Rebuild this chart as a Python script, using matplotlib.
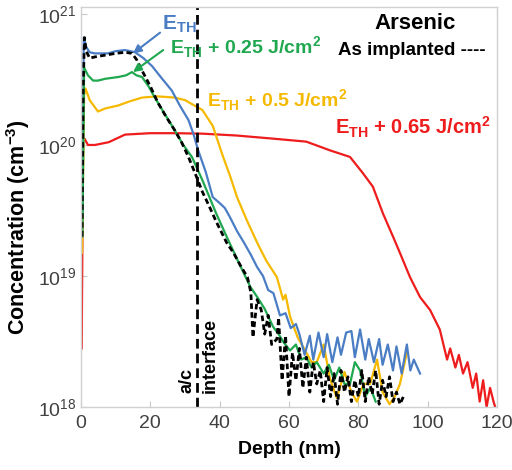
import numpy as np
import matplotlib
matplotlib.use('Agg')
import matplotlib.pyplot as plt

plt.rcParams['font.family'] = ['Liberation Sans', 'DejaVu Sans']
plt.rcParams['mathtext.fontset'] = 'custom'
plt.rcParams['mathtext.rm'] = 'Liberation Sans'
plt.rcParams['mathtext.bf'] = 'Liberation Sans:bold'

# as implanted (black dashed)
x_imp = [0.3, 0.6, 1.0, 1.5, 2.5, 4, 6, 8, 10, 12.7, 14.7, 16, 17.6, 20, 22.2, 24.5, 27, 29, 31, 33, 35, 37,
         39, 42, 44, 46, 48, 49, 49.6, 50.8, 52, 53, 54, 55, 56.5, 57, 58, 59, 60, 61, 62, 63, 64, 65, 66, 67,
         68, 69, 70, 71, 72, 73, 74, 75, 76, 77, 78, 79, 80, 81, 82, 83, 84, 85, 86, 87, 88, 89, 90, 91, 92, 93]
y_imp = [2.0e19, 2.5e20, 6.6e20, 5.2e20, 4.6e20, 4.7e20, 4.8e20, 4.9e20, 5.0e20, 5.1e20, 5.0e20, 4.5e20, 3.7e20,
         2.8e20, 2.1e20, 1.65e20, 1.3e20, 1.05e20, 8.1e19, 6.0e19, 4.4e19, 3.4e19,
         2.6e19, 1.8e19, 1.5e19, 1.2e19, 9.8e18, 7.5e18, 3.4e18, 6.6e18, 5.5e18, 3.6e18, 5.0e18, 3.0e18,
         3.3e18, 4.8e18, 1.6e18, 3.5e18, 1.2e18, 2.6e18, 1.6e18, 2.8e18, 1.4e18, 2.4e18, 1.3e18, 2.2e18,
         1.5e18, 1.9e18, 1.1e18, 2.0e18, 1.2e18, 1.8e18, 1.05e18, 1.9e18, 1.3e18, 1.7e18, 1.1e18, 1.6e18,
         1.2e18, 1.9e18, 1.1e18, 1.7e18, 1.25e18, 1.9e18, 1.05e18, 1.6e18, 1.2e18, 1.7e18, 1.1e18, 1.3e18,
         1.05e18, 1.2e18]

# E_TH (blue)
x_eth = [0.4, 0.8, 1.5, 2.5, 4, 6, 7.8, 10, 12.7, 15.6, 18, 20.5, 23, 26.2, 28.5, 31, 32.5, 33.8, 36, 38, 40,
         41.5, 43, 45, 47, 49, 50.8, 52.5, 54, 55.5, 57.4, 59, 60.5, 62, 63, 64.5, 66, 67, 68.5, 70, 71, 72.5,
         74, 75, 76.5, 78, 79, 80.5, 82, 83, 84.5, 86, 87, 88.5, 90, 91, 92.5, 94, 95, 96, 97.8]
y_eth = [3.0e19, 6.6e20, 5.6e20, 5.1e20, 5.0e20, 5.0e20, 5.0e20, 5.2e20, 5.3e20, 5.1e20, 4.6e20, 4.0e20,
         3.3e20, 2.6e20, 2.0e20, 1.55e20, 1.2e20, 9.1e19, 6.2e19, 4.0e19, 3.6e19,
         3.3e19, 2.8e19, 2.2e19, 1.8e19, 1.45e19, 1.17e19, 1.0e19, 7.8e18, 7.4e18, 5.0e18, 5.2e18, 4.0e18,
         4.3e18, 3.6e18, 2.5e18, 3.5e18, 2.3e18, 3.7e18, 2.4e18, 3.6e18, 2.2e18, 3.4e18, 2.5e18, 3.7e18,
         3.8e18, 2.4e18, 3.9e18, 2.3e18, 3.3e18, 2.2e18, 3.3e18, 2.1e18, 3.0e18, 1.9e18, 2.9e18, 1.8e18,
         3.0e18, 1.9e18, 2.3e18, 1.8e18]

# E_TH + 0.25 J/cm2 (green)
x_025 = [0.4, 0.9, 2, 3.5, 4.9, 7, 10.7, 13, 14.7, 16, 17.6, 19.5, 21.3, 24, 27, 29.5, 32, 35, 39, 42, 45,
         48.8, 51, 53, 55.4, 57, 58.5, 60.3, 62, 63.5, 65, 66.5, 68, 70, 71.5, 73, 74.5, 76, 77.6, 79, 80.5,
         82, 83.5, 85]
y_025 = [2.0e19, 3.9e20, 3.4e20, 3.1e20, 3.1e20, 3.2e20, 3.3e20, 3.4e20, 3.6e20, 3.4e20, 3.3e20, 2.8e20,
         2.3e20, 1.75e20, 1.3e20, 1.0e20, 8.1e19, 5.4e19, 3.0e19, 2.0e19, 1.35e19,
         8.3e18, 6.8e18, 5.6e18, 4.1e18, 3.6e18, 3.1e18, 2.7e18, 3.0e18, 2.3e18, 2.4e18, 2.0e18, 2.2e18,
         1.8e18, 2.1e18, 1.6e18, 2.0e18, 1.5e18, 1.5e18, 2.2e18, 1.9e18, 1.2e18, 1.4e18, 1.1e18]

# E_TH + 0.5 J/cm2 (yellow)
x_050 = [0.3, 0.9, 1.3, 2.5, 4.9, 7, 10.7, 14, 17.6, 22, 27, 30, 32, 35, 38, 41, 43, 45, 48, 50.8, 53.5,
         56.5, 58.3, 59, 60.3, 62.5, 65, 66.5, 68, 70, 71.8, 73.8, 76, 78, 79.6, 81.5, 83.4, 85.4, 87, 89,
         90.5, 92, 94]
y_050 = [1.5e19, 2.4e20, 2.7e20, 2.2e20, 1.8e20, 1.9e20, 2.0e20, 2.15e20, 2.3e20, 2.35e20, 2.3e20, 2.2e20,
         2.05e20, 1.85e20, 1.4e20, 8.1e19, 5.8e19, 4.0e19, 2.6e19, 1.8e19, 1.3e19,
         9.8e18, 6.6e18, 7.2e18, 4.9e18, 3.4e18, 2.6e18, 2.2e18, 2.2e18, 3.0e18, 1.65e18, 1.17e18, 1.85e18,
         1.3e18, 1.1e18, 1.5e18, 1.5e18, 2.3e18, 1.3e18, 1.05e18, 1.2e18, 1.5e18, 2.6e18]

# E_TH + 0.65 J/cm2 (red)
x_065 = [0.2, 0.6, 1.0, 2, 4, 8, 12.7, 20, 27, 35, 45, 55, 65, 71.8, 77.6, 81.3, 84.2, 87.1, 90, 92, 94.9,
         97.8, 100.7, 103.5, 105.6, 106.5, 108, 109, 110.2, 111.5, 113, 114, 115, 116, 117, 118, 119, 120]
y_065 = [2.8e18, 1.1e20, 1.12e20, 1.0e20, 1.0e20, 1.05e20, 1.2e20, 1.23e20, 1.23e20, 1.22e20, 1.18e20,
         1.12e20, 1.06e20, 9.1e19, 8.1e19, 6.1e19, 4.8e19, 3.0e19, 2.0e19, 1.5e19, 9.8e18,
         6.9e18, 5.5e18, 3.9e18, 2.3e18, 2.8e18, 2.0e18, 2.5e18, 1.8e18, 2.2e18, 1.4e18, 1.8e18, 1.1e18,
         1.6e18, 1.0e18, 1.4e18, 1.1e18, 0.9e18]

c_blue = '#4a7dc4'
c_green = '#1fa84f'
c_yellow = '#f5b900'
c_red = '#ee1c1c'

fig = plt.figure(figsize=(5.12, 4.70), dpi=100)
ax = fig.add_axes([81/512, 1 - 407/470, 416/512, 400/470])

ax.plot(x_065, y_065, color=c_red, lw=1.6)
ax.plot(x_050, y_050, color=c_yellow, lw=1.6)
ax.plot(x_eth, y_eth, color=c_blue, lw=1.6)
ax.plot(x_025, y_025, color=c_green, lw=1.6)
ax.plot(x_imp, y_imp, color='black', lw=2.0, dashes=(2, 1.2))

# a/c interface line
ax.axvline(33.5, color='black', lw=2.0, dashes=(3.5, 1.8))

ax.set_yscale('log')
ax.set_xlim(0, 120)
ax.set_ylim(1e18, 1.13e21)
ax.set_yticks([1e18, 1e19, 1e20, 1e21])
ax.yaxis.set_minor_locator(matplotlib.ticker.NullLocator())
ax.set_xticks([0, 20, 40, 60, 80, 100, 120])

for s in ax.spines.values():
    s.set_color('#d0d0d0')
    s.set_linewidth(1.0)
ax.tick_params(direction='in', length=4, color='#c8c8c8', labelsize=14, labelcolor='#404040')
ax.tick_params(axis='x', pad=6)

ax.set_xlabel('Depth (nm)', fontsize=14, fontweight='bold', labelpad=6)
ax.set_ylabel(r'Concentration (cm$^{\mathbf{-3}}$)', fontsize=15.5, fontweight='bold')
ax.yaxis.set_label_coords(-0.118, 0.45)

ax.text(30.6, 1.0e18 * 10 ** 0.11, 'a/c', rotation=90, fontsize=13, fontweight='bold',
        ha='center', va='bottom')
ax.text(37.4, 1.0e18 * 10 ** 0.11, 'interface', rotation=90, fontsize=13, fontweight='bold',
        ha='center', va='bottom')

ax.annotate('', xy=(15.0, 5.0e20), xytext=(22.8, 7.2e20),
            arrowprops=dict(arrowstyle='-|>', color=c_blue, lw=1.5, shrinkA=0, shrinkB=0,
                            mutation_scale=12))
ax.annotate('', xy=(15.0, 3.6e20), xytext=(23.7, 5.3e20),
            arrowprops=dict(arrowstyle='-|>', color=c_green, lw=1.5, shrinkA=0, shrinkB=0,
                            mutation_scale=12))
ax.text(23.4, 8.4e20, r'E$_{\mathbf{TH}}$', color=c_blue, fontsize=15, fontweight='bold',
        ha='left', va='center')
ax.text(25.7, 5.6e20, r'E$_{\mathbf{TH}}$ + 0.25 J/cm$^{\mathbf{2}}$', color=c_green, fontsize=14,
        fontweight='bold', ha='left', va='center')
ax.text(36.3, 2.2e20, r'E$_{\mathbf{TH}}$ + 0.5 J/cm$^{\mathbf{2}}$', color=c_yellow, fontsize=14,
        fontweight='bold', ha='left', va='center')
ax.text(73.3, 1.37e20, r'E$_{\mathbf{TH}}$ + 0.65 J/cm$^{\mathbf{2}}$', color=c_red, fontsize=14.5,
        fontweight='bold', ha='left', va='center')
ax.text(96.3, 8.4e20, 'Arsenic', fontsize=16, fontweight='bold', ha='center', va='center')
ax.text(95.5, 5.3e20, 'As implanted ----', fontsize=13.5, fontweight='bold', ha='center', va='center')

fig.savefig('out.png', dpi=100)
